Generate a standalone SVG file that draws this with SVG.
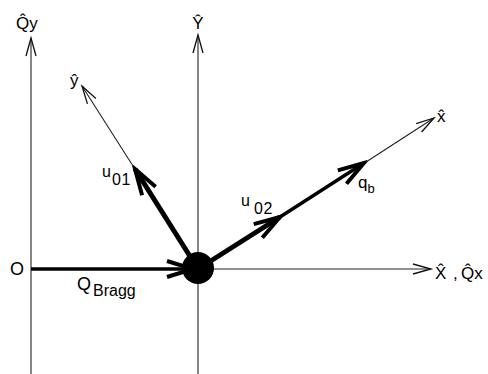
<svg xmlns="http://www.w3.org/2000/svg" width="488" height="374" viewBox="0 0 488 374">
<style>
text{font-family:"Liberation Sans",Arial,sans-serif;fill:#000}
.thin{stroke:#222;stroke-width:1.1;fill:none}
.thick5{stroke:#000;stroke-width:5;fill:none}
.thick3{stroke:#000;stroke-width:3.4;fill:none}
</style>
<defs>
<marker id="thinHead" viewBox="-22 -8 26 16" markerWidth="26" markerHeight="16" refX="0" refY="0" orient="auto" markerUnits="userSpaceOnUse">
<path d="M-18,-5 L0,0 L-18,5" fill="none" stroke="#111" stroke-width="1.3"/>
</marker>
<marker id="thickHead" viewBox="-32 -12 36 24" markerWidth="36" markerHeight="24" refX="0" refY="0" orient="auto" markerUnits="userSpaceOnUse">
<path d="M-26,-8 L0,0 L-26,8" fill="none" stroke="#000" stroke-width="4"/>
</marker>
</defs>
<g id="connectors">
<line class="thin" x1="31" y1="374" x2="31" y2="38" marker-end="url(#thinHead)"/>
<line class="thin" x1="198" y1="374" x2="198" y2="35" marker-end="url(#thinHead)"/>
<line class="thin" x1="198" y1="269" x2="431" y2="269" marker-end="url(#thinHead)"/>
<line class="thick3" x1="31" y1="269" x2="193" y2="269" marker-end="url(#thickHead)"/>
<line class="thick5" x1="198" y1="269" x2="135" y2="169" marker-end="url(#thickHead)"/>
<line class="thin" x1="133" y1="166" x2="82" y2="86" marker-end="url(#thinHead)"/>
<line class="thick5" x1="198" y1="269" x2="280" y2="217" marker-end="url(#thickHead)"/>
<line class="thick3" x1="280" y1="217" x2="364" y2="163" marker-end="url(#thickHead)"/>
<line class="thin" x1="366" y1="162" x2="434" y2="118" marker-end="url(#thinHead)"/>
</g>
<g id="origin-dot"><circle cx="198" cy="268" r="16" fill="#000"/></g>
<g id="label-Qy"><text x="16" y="29" font-size="17">Q̂y</text></g>
<g id="label-Y"><text x="198" y="29" font-size="17" text-anchor="middle">Ŷ</text></g>
<g id="label-y"><text x="70" y="86" font-size="17">ŷ</text></g>
<g id="label-x"><text x="437" y="122" font-size="17">x̂</text></g>
<g id="label-X"><text y="279" font-size="17"><tspan x="435">X̂</tspan><tspan x="453">,</tspan><tspan x="461">Q̂x</tspan></text></g>
<g id="label-O"><text x="10" y="275" font-size="18">O</text></g>
<g id="label-QBragg"><text x="77" y="290" font-size="18">Q<tspan x="93" font-size="16" dy="6">Bragg</tspan></text></g>
<g id="label-u01"><text x="102" y="177" font-size="16">u<tspan x="112" dy="8" letter-spacing="0.5">01</tspan></text></g>
<g id="label-u02"><text x="241" y="206" font-size="16">u<tspan x="254" dy="8" letter-spacing="0.5">02</tspan></text></g>
<g id="label-qb"><text x="358" y="188" font-size="17">q<tspan font-size="13" dy="5">b</tspan></text></g>
</svg>
